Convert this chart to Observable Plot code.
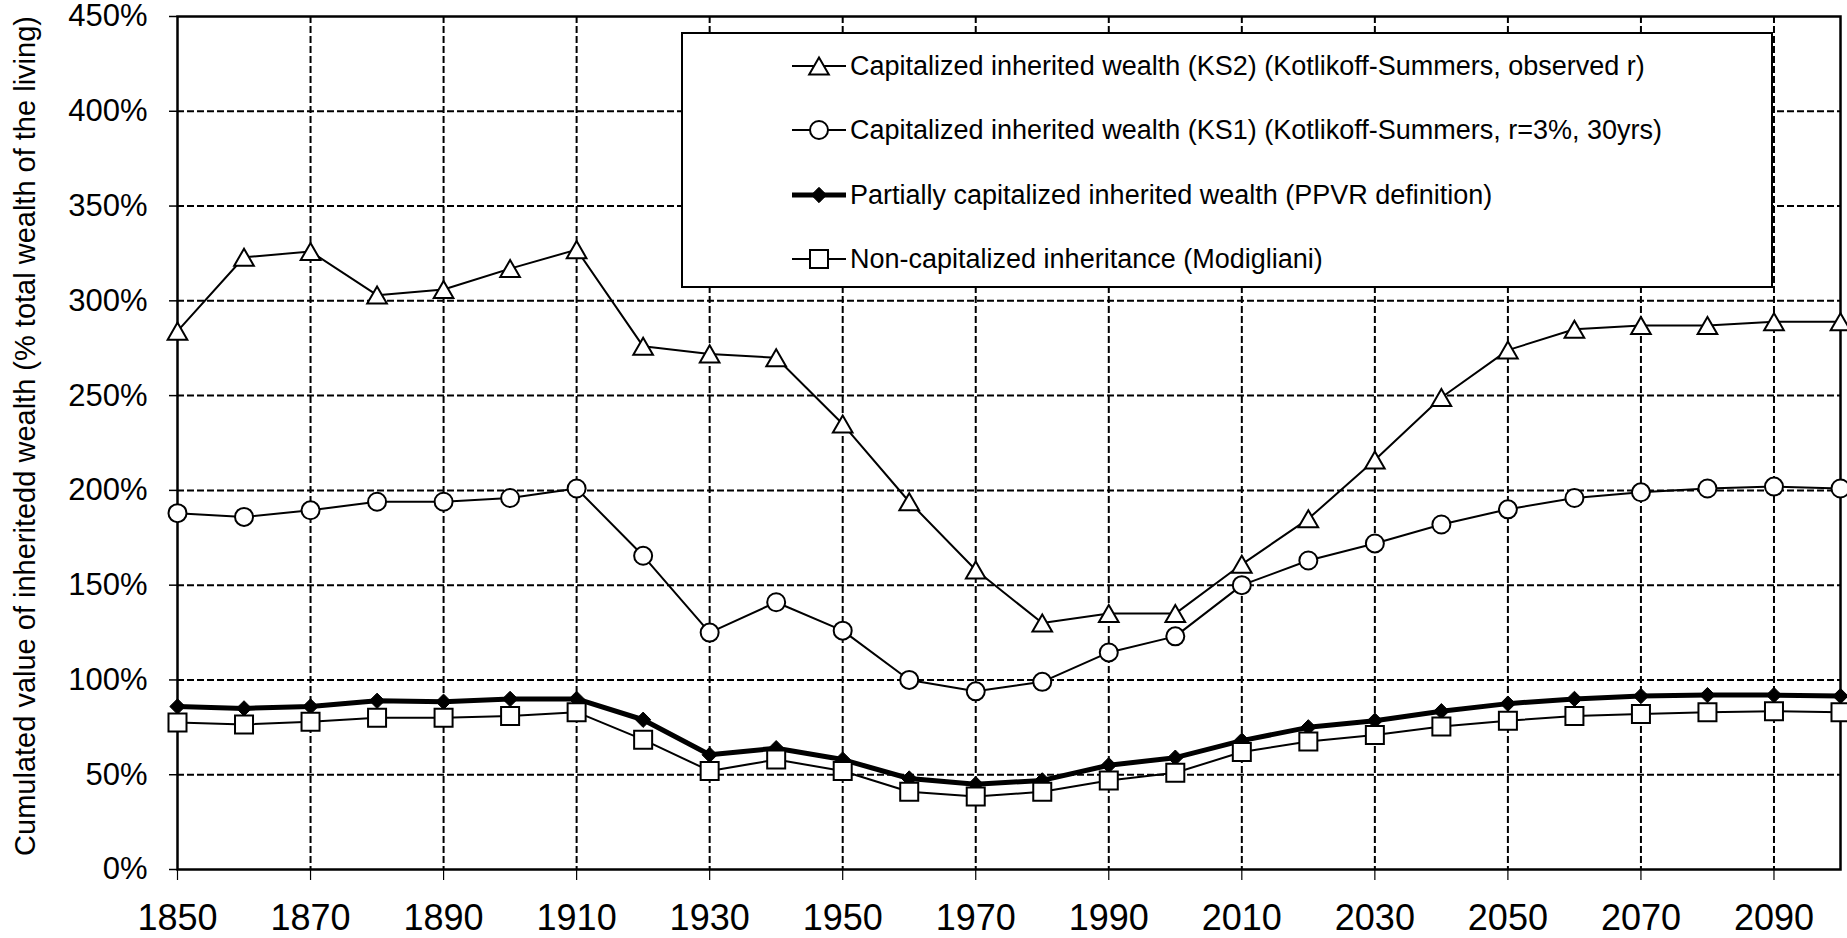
<!DOCTYPE html>
<html><head><meta charset="utf-8">
<script src="https://cdn.jsdelivr.net/npm/d3@7"></script>
<script src="https://cdn.jsdelivr.net/npm/@observablehq/plot@0.6"></script>
<style>
html,body{margin:0;padding:0;background:#fff;}
body{font-family:"Liberation Sans",Arial,sans-serif;color:#000;}
#wrap{position:relative;width:1847px;height:938px;overflow:hidden;}
#legend{position:absolute;left:681px;top:32px;width:1092px;height:256px;box-sizing:border-box;border:2px solid #000;background:#fff;}
.row{position:absolute;left:109px;height:40px;display:flex;align-items:center;font-size:27px;white-space:nowrap;}
.row svg{display:block;margin-right:4px;}
</style></head><body><div id="wrap"></div>
<script>
const years = [1850,1860,1870,1880,1890,1900,1910,1920,1930,1940,1950,1960,1970,1980,1990,2000,2010,2020,2030,2040,2050,2060,2070,2080,2090,2100];
const ks2 = [284,323,326,303,306,317,327,276,272,270,235,194,158,130,135,135,161,185,216,249,274,285,287,287,289,289];
const ks1 = [188,186,189.5,194,194,196,201,165.5,125,141,126,100,94,99,114.5,123,150,163,172,182,190,196,199,201,202,201];
const ppvr = [86,85,86,89,88.5,90,90,79,60.5,64,58,48,45,47,55,59,68,75,78.5,83.5,87.5,90,91.5,92,92,91.5];
const modigliani = [77.5,76.5,78,80,80,81,83,68.5,52,58,52,41,38.5,41,47,51,62,67.5,71,75.5,78.5,81,82,83,83.5,83];

const yTicks = [0,50,100,150,200,250,300,350,400,450];
const xTicks = [1850,1870,1890,1910,1930,1950,1970,1990,2010,2030,2050,2070,2090];
const xGrid = [1870,1890,1910,1930,1950,1970,1990,2010,2030,2050,2070,2090];
const yGrid = [50,100,150,200,250,300,350,400];
const yTitle = "Cumulated value of inheritedd wealth (% total wealth of the living)";
const seriesNames = [
  "Capitalized inherited wealth (KS2) (Kotlikoff-Summers, observed r)",
  "Capitalized inherited wealth (KS1) (Kotlikoff-Summers, r=3%, 30yrs)",
  "Partially capitalized inherited wealth (PPVR definition)",
  "Non-capitalized inheritance (Modigliani)"
];

const table = years.map((year, i) => ({year, ks2: ks2[i], ks1: ks1[i], ppvr: ppvr[i], mod: modigliani[i]}));

const FONT = '"Liberation Sans", Arial, sans-serif';
const rTri = 7.3, rCirc = 9, rSq = 10.16, rDia = 6.9;

const chart = Plot.plot({
  width: 1847, height: 938,
  marginLeft: 177, marginRight: 7, marginTop: 16, marginBottom: 69,
  style: {fontFamily: FONT, background: "#fff", color: "#000", overflow: "visible"},
  x: {domain: [1850, 2100]},
  y: {domain: [0, 450]},
  marks: [
    Plot.gridY({ticks: yGrid, stroke: "#000", strokeOpacity: 1, strokeWidth: 2, strokeDasharray: "7,3"}),
    Plot.gridX({ticks: xGrid, stroke: "#000", strokeOpacity: 1, strokeWidth: 2, strokeDasharray: "7,3"}),
    Plot.axisY({ticks: yTicks, tickFormat: d => d + "%", tickSize: 8, tickPadding: 22, fontSize: 31, strokeWidth: 1.5, label: null}),
    Plot.axisX({ticks: xTicks, tickFormat: d => String(d), tickSize: 11, tickPadding: 24, fontSize: 36, strokeWidth: 1.2, label: null}),
    Plot.frame({stroke: "#000", strokeWidth: 2.5}),
    Plot.text([yTitle], {frameAnchor: "left", textAnchor: "middle", rotate: -90, dx: -152, dy: -7, fontSize: 29, fill: "#000"}),
    Plot.line(table, {x: "year", y: "ks2", stroke: "#000", strokeWidth: 2}),
    Plot.line(table, {x: "year", y: "ks1", stroke: "#000", strokeWidth: 2}),
    Plot.line(table, {x: "year", y: "mod", stroke: "#000", strokeWidth: 2}),
    Plot.line(table, {x: "year", y: "ppvr", stroke: "#000", strokeWidth: 5}),
    Plot.dot(table, {x: "year", y: "ppvr", symbol: "diamond2", r: rDia, fill: "#000", stroke: "#000", strokeWidth: 1}),
    Plot.dot(table, {x: "year", y: "mod", symbol: "square", r: rSq, fill: "#fff", stroke: "#000", strokeWidth: 2}),
    Plot.dot(table, {x: "year", y: "ks1", symbol: "circle", r: rCirc, fill: "#fff", stroke: "#000", strokeWidth: 2}),
    Plot.dot(table, {x: "year", y: "ks2", symbol: "triangle", r: rTri, dy: 2.8, fill: "#fff", stroke: "#000", strokeWidth: 2})
  ]
});

const wrap = document.getElementById("wrap");
wrap.appendChild(chart);

// Legend
const legend = document.createElement("div");
legend.id = "legend";
wrap.appendChild(legend);
const legendSpec = [
  {name: seriesNames[0], type: d3.symbolTriangle, r: rTri, fill: "#fff", lw: 2, dy: 2.8},
  {name: seriesNames[1], type: d3.symbolCircle, r: rCirc, fill: "#fff", lw: 2, dy: 0},
  {name: seriesNames[2], type: d3.symbolDiamond2, r: rDia, fill: "#000", lw: 5, dy: 0},
  {name: seriesNames[3], type: d3.symbolSquare, r: rSq, fill: "#fff", lw: 2, dy: 0}
];
const rowTops = [12, 76, 141, 205];
legendSpec.forEach((s, i) => {
  const row = document.createElement("div");
  row.className = "row";
  row.style.top = rowTops[i] + "px";
  const svg = d3.create("svg").attr("width", 54).attr("height", 40);
  svg.append("line").attr("x1", 0).attr("x2", 54).attr("y1", 20).attr("y2", 20)
    .attr("stroke", "#000").attr("stroke-width", s.lw);
  svg.append("path")
    .attr("d", d3.symbol(s.type, Math.PI * s.r * s.r)())
    .attr("transform", `translate(27,${20 + s.dy})`)
    .attr("fill", s.fill).attr("stroke", "#000").attr("stroke-width", s.fill === "#000" ? 1 : 2);
  row.appendChild(svg.node());
  const span = document.createElement("span");
  span.textContent = s.name;
  row.appendChild(span);
  legend.appendChild(row);
});
</script>
</body></html>
